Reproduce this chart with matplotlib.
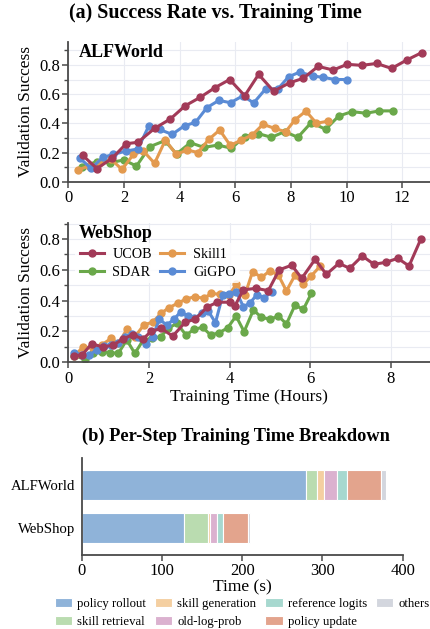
import matplotlib
matplotlib.use("Agg")
import matplotlib.pyplot as plt
from matplotlib.ticker import MultipleLocator

plt.rcParams['font.family'] = ['Liberation Serif', 'DejaVu Serif']
plt.rcParams['mathtext.fontset'] = 'stix'

# ---------------- data ----------------
methods = ["UCOB", "Skill1", "SDAR", "GiGPO"]
colors = {"UCOB": "#a23a58", "Skill1": "#e39a4f", "SDAR": "#6aa84a", "GiGPO": "#5a8bd5"}

# ALFWorld
alf_ucob_x = [0.52, 1.03, 1.57, 2.08, 2.50, 3.10, 3.67, 4.20, 4.74, 5.27, 5.80, 6.34, 6.84, 7.38,
              7.96, 8.44, 8.98, 9.52, 10.02, 10.55, 11.08, 11.62, 12.16, 12.70]
alf_ucob_y = [0.18, 0.09, 0.16, 0.26, 0.27, 0.365, 0.43, 0.52, 0.578, 0.644, 0.70, 0.589, 0.735, 0.62,
              0.678, 0.708, 0.79, 0.765, 0.804, 0.797, 0.81, 0.776, 0.833, 0.884]
alf_gigpo_x = [0.42, 0.82, 1.24, 1.62, 2.08, 2.50, 2.89, 3.28, 3.73, 4.18, 4.57, 4.98, 5.41, 5.83,
               6.28, 6.66, 7.09, 7.54, 7.92, 8.32, 8.78, 9.16, 9.58, 10.0]
alf_gigpo_y = [0.16, 0.091, 0.167, 0.187, 0.21, 0.224, 0.381, 0.358, 0.324, 0.384, 0.406, 0.507,
               0.557, 0.541, 0.589, 0.539, 0.635, 0.637, 0.719, 0.751, 0.724, 0.715, 0.70, 0.70]
alf_sdar_x = [0.51, 1.02, 1.50, 2.00, 2.45, 2.93, 3.47, 3.89, 4.39, 4.87, 5.38, 5.86, 6.34, 6.82,
              7.30, 7.78, 8.25, 8.73, 9.25, 9.72, 10.2, 10.7, 11.18, 11.66]
alf_sdar_y = [0.103, 0.137, 0.13, 0.149, 0.107, 0.24, 0.281, 0.19, 0.267, 0.235, 0.251, 0.229,
              0.309, 0.33, 0.304, 0.343, 0.304, 0.405, 0.359, 0.45, 0.48, 0.469, 0.485, 0.485]
alf_skill1_x = [0.36, 0.75, 1.12, 1.54, 1.93, 2.34, 2.70, 3.10, 3.49, 3.88, 4.27, 4.66, 5.05, 5.44,
                5.82, 6.22, 6.61, 7.0, 7.42, 7.81, 8.14, 8.54, 8.92, 9.34]
alf_skill1_y = [0.08, 0.11, 0.126, 0.153, 0.084, 0.187, 0.21, 0.126, 0.285, 0.187, 0.217, 0.2,
                0.29, 0.354, 0.249, 0.285, 0.32, 0.393, 0.365, 0.342, 0.422, 0.484, 0.40, 0.415]

# WebShop
web_ucob_x = [0.15, 0.35, 0.58, 0.85, 1.10, 1.35, 1.60, 1.85, 2.05, 2.30, 2.59, 2.90, 3.15, 3.45,
              3.70, 4.00, 4.13, 4.34, 4.65, 4.96, 5.23, 5.54, 5.79, 6.12, 6.40, 6.71, 6.98, 7.29,
              7.58, 7.88, 8.17, 8.45, 8.74]
web_ucob_y = [0.04, 0.05, 0.12, 0.10, 0.11, 0.15, 0.18, 0.15, 0.20, 0.22, 0.17, 0.26, 0.28, 0.36,
              0.39, 0.39, 0.365, 0.47, 0.48, 0.465, 0.60, 0.63, 0.545, 0.668, 0.571, 0.642, 0.61,
              0.69, 0.636, 0.649, 0.675, 0.625, 0.798]
web_skill1_x = [0.17, 0.37, 0.62, 0.83, 1.06, 1.24, 1.46, 1.65, 1.88, 2.09, 2.31, 2.50, 2.73, 2.92,
                3.14, 3.36, 3.55, 3.76, 3.99, 4.17, 4.38, 4.57, 4.79, 5.00, 5.21, 5.41, 5.62, 5.83,
                6.03, 6.24]
web_skill1_y = [0.048, 0.10, 0.091, 0.113, 0.155, 0.123, 0.216, 0.166, 0.244, 0.26, 0.32, 0.355,
                0.385, 0.411, 0.426, 0.415, 0.447, 0.441, 0.437, 0.508, 0.437, 0.588, 0.551, 0.594,
                0.566, 0.463, 0.564, 0.508, 0.562, 0.622]
web_gigpo_x = [0.14, 0.33, 0.52, 0.70, 0.88, 1.06, 1.24, 1.40, 1.57, 1.74, 1.92, 2.09, 2.26, 2.44,
               2.62, 2.79, 2.96, 3.12, 3.31, 3.47, 3.65, 3.83, 3.99, 4.17, 4.34, 4.50, 4.67, 4.86,
               5.04]
web_gigpo_y = [0.063, 0.048, 0.048, 0.08, 0.108, 0.112, 0.128, 0.166, 0.184, 0.162, 0.119, 0.166,
               0.279, 0.242, 0.279, 0.329, 0.30, 0.285, 0.318, 0.333, 0.257, 0.437, 0.441, 0.458,
               0.361, 0.383, 0.437, 0.42, 0.454]
web_sdar_x = [0.14, 0.41, 0.62, 0.83, 1.03, 1.24, 1.45, 1.65, 1.86, 2.07, 2.29, 2.48, 2.69, 2.92,
              3.12, 3.33, 3.53, 3.74, 3.95, 4.16, 4.36, 4.59, 4.79, 5.00, 5.21, 5.41, 5.62, 5.83,
              6.03]
web_sdar_y = [0.041, 0.022, 0.06, 0.069, 0.063, 0.058, 0.145, 0.058, 0.145, 0.156, 0.166, 0.22,
              0.253, 0.177, 0.214, 0.227, 0.177, 0.192, 0.223, 0.30, 0.199, 0.339, 0.292, 0.279,
              0.30, 0.249, 0.37, 0.344, 0.448]

# Per-step time breakdown (seconds)
envs = ["ALFWorld", "WebShop"]
components = ["policy rollout", "skill retrieval", "skill generation", "old-log-prob",
              "reference logits", "policy update", "others"]
comp_colors = ["#8fb3d9", "#badcb0", "#f4cfa1", "#dbb1cf", "#a7d8cf", "#e3a48d", "#d3d6de"]
alf_times = [279, 14, 9, 16, 13, 42, 6]
web_times = [127, 30, 3, 8, 8, 31, 3]

# ---------------- figure ----------------
fig = plt.figure(figsize=(4.3, 6.29), dpi=100)
W, H = 430, 629

def ax_px(l, t, r, b):
    return fig.add_axes([l / W, 1 - b / H, (r - l) / W, (b - t) / H])

spine_col = "#4a4a4a"
grid_col = "#e9ebf2"

def style_line_ax(ax):
    for s in ["top", "right"]:
        ax.spines[s].set_visible(False)
    for s in ["left", "bottom"]:
        ax.spines[s].set_color(spine_col)
        ax.spines[s].set_linewidth(1.3)
    ax.yaxis.set_major_locator(MultipleLocator(0.2))
    ax.yaxis.set_minor_locator(MultipleLocator(0.1))
    ax.xaxis.set_major_locator(MultipleLocator(2))
    ax.tick_params(axis="both", which="major", labelsize=12, length=4, width=1.1,
                   color=spine_col, direction="out", pad=2)
    ax.tick_params(axis="y", which="minor", length=3, width=1.0, color=spine_col)
    ax.grid(True, which="major", color=grid_col, linewidth=0.8)
    ax.grid(True, which="minor", axis="y", color=grid_col, linewidth=0.8)
    ax.set_axisbelow(True)

lw = 2.2
ms = 5.0

fig.text(0.5, 1 - 13 / H, "(a) Success Rate vs. Training Time", ha="center", va="center",
         fontsize=14.4, fontweight="bold")

ax1 = ax_px(68.3, 42, 430, 181.7)
style_line_ax(ax1)
series1 = {"UCOB": (alf_ucob_x, alf_ucob_y), "Skill1": (alf_skill1_x, alf_skill1_y),
           "SDAR": (alf_sdar_x, alf_sdar_y), "GiGPO": (alf_gigpo_x, alf_gigpo_y)}
for m in ["SDAR", "Skill1", "GiGPO", "UCOB"]:
    xs, ys = series1[m]
    ax1.plot(xs, ys, "-o", color=colors[m], lw=lw, ms=ms, label=m)
ax1.set_xlim(0, 13)
ax1.set_ylim(0, 0.957)
ax1.set_ylabel("Validation Success", fontsize=12.5, labelpad=4)
ax1.text(0.03, 0.985, "ALFWorld", transform=ax1.transAxes, ha="left", va="top",
         fontsize=13, fontweight="bold")

ax2 = ax_px(68.3, 223, 430, 362.3)
style_line_ax(ax2)
series2 = {"UCOB": (web_ucob_x, web_ucob_y), "Skill1": (web_skill1_x, web_skill1_y),
           "SDAR": (web_sdar_x, web_sdar_y), "GiGPO": (web_gigpo_x, web_gigpo_y)}
handles = {}
for m in ["SDAR", "Skill1", "GiGPO", "UCOB"]:
    xs, ys = series2[m]
    h, = ax2.plot(xs, ys, "-o", color=colors[m], lw=lw, ms=ms, label=m)
    handles[m] = h
ax2.set_xlim(0, 8.97)
ax2.set_ylim(0, 0.904)
ax2.set_ylabel("Validation Success", fontsize=12.5, labelpad=4)
ax2.set_xlabel("Training Time (Hours)", fontsize=12.5, labelpad=2)
ax2.text(0.03, 0.985, "WebShop", transform=ax2.transAxes, ha="left", va="top",
         fontsize=13, fontweight="bold")
order = ["UCOB", "SDAR", "Skill1", "GiGPO"]
leg = ax2.legend([handles[m] for m in order], order, ncol=2, loc="upper left",
                 bbox_to_anchor=(0.0, 0.905), fontsize=10.2, frameon=True, framealpha=0.85,
                 edgecolor="none", handlelength=1.7, columnspacing=0.6, handletextpad=0.6,
                 labelspacing=0.35, borderpad=0.3)

fig.text(235.5 / W, 1 - 436 / H, "(b) Per-Step Training Time Breakdown", ha="center",
         va="center", fontsize=13.2, fontweight="bold")

ax3 = ax_px(81.7, 458, 402.7, 555)
ypos = [1, 0]
left = [0.0, 0.0]
for i, comp in enumerate(components):
    vals = [alf_times[i], web_times[i]]
    ax3.barh(ypos, vals, left=left, height=0.70, color=comp_colors[i], edgecolor="white",
             linewidth=0.8, label=comp)
    left = [left[0] + vals[0], left[1] + vals[1]]
ax3.set_yticks(ypos)
ax3.set_yticklabels(envs)
ax3.set_ylim(-0.64, 1.63)
ax3.set_xlim(0, 400)
ax3.xaxis.set_major_locator(MultipleLocator(100))
for s in ["top", "right"]:
    ax3.spines[s].set_visible(False)
for s in ["left", "bottom"]:
    ax3.spines[s].set_color(spine_col)
    ax3.spines[s].set_linewidth(1.3)
ax3.tick_params(axis="x", labelsize=12, length=4, width=1.1, color=spine_col, pad=2)
ax3.tick_params(axis="y", labelsize=10.6, length=0, pad=5)
ax3.set_xlabel("Time (s)", fontsize=12.5, labelpad=0)
ax3.legend(ncol=4, loc="upper center", bbox_to_anchor=(0.50, -0.35), fontsize=9.2,
           frameon=False, handlelength=1.35, handleheight=0.75, columnspacing=0.7,
           handletextpad=0.4, labelspacing=0.45, borderpad=0.2)

fig.savefig("out.png", dpi=100)
